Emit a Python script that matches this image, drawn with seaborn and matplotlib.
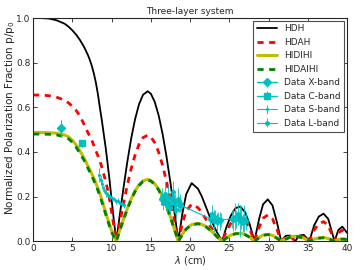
import matplotlib
matplotlib.use("Agg")
import matplotlib.pyplot as plt
import seaborn as sns
import pandas as pd

# model curves
lam = [0, 1, 2, 3, 4, 4.5, 5, 5.5, 6, 6.5, 7, 7.25, 7.5, 7.75, 8, 8.25, 8.5, 8.75, 9, 9.25, 9.5, 9.75, 10, 10.3, 10.6,
       11, 11.5, 12, 12.5, 13, 13.5, 14, 14.6, 15, 15.5, 16, 16.5, 17, 17.5, 18, 18.5,
       19, 19.5, 20.2, 21, 21.5, 22, 22.5, 23, 23.5, 24.1,
       24.6, 25.2, 25.8, 26.4, 27, 27.6, 28.2,
       28.8, 29.3, 29.9, 30.5, 31.1, 31.6,
       32.2, 32.8, 33.4, 33.9, 34.5, 35.2,
       35.8, 36.4, 37.0, 37.6, 38.4,
       38.9, 39.4, 40]

hdh = [1.0, 1.0, 0.998, 0.99, 0.975, 0.962, 0.945, 0.925, 0.9, 0.87, 0.833, 0.81, 0.783, 0.75, 0.71, 0.66, 0.6,
       0.543, 0.48, 0.418, 0.345, 0.27, 0.185, 0.09, 0.0,
       0.106, 0.235, 0.355, 0.461, 0.548, 0.614, 0.656, 0.672, 0.661, 0.624, 0.563, 0.48, 0.378, 0.261, 0.132, 0.0,
       0.12, 0.21, 0.26, 0.235, 0.2, 0.155, 0.11, 0.07, 0.035, 0.0,
       0.06, 0.115, 0.148, 0.155, 0.13, 0.075, 0.0,
       0.1, 0.165, 0.187, 0.16, 0.08, 0.0,
       0.024, 0.025, 0.0, 0.025, 0.028, 0.0,
       0.07, 0.11, 0.123, 0.1, 0.0,
       0.05, 0.065, 0.037]

hdah = [0.655, 0.655, 0.652, 0.645, 0.632, 0.62, 0.605, 0.585, 0.56, 0.522, 0.485, 0.468, 0.45, 0.428, 0.405, 0.383, 0.36,
        0.332, 0.3, 0.267, 0.23, 0.185, 0.13, 0.065, 0.0,
        0.075, 0.166, 0.251, 0.326, 0.387, 0.434, 0.464, 0.475, 0.467, 0.441, 0.398, 0.339, 0.267, 0.185, 0.093, 0.0,
        0.077, 0.134, 0.166, 0.15, 0.128, 0.099, 0.07, 0.045, 0.022, 0.0,
        0.042, 0.08, 0.104, 0.109, 0.091, 0.053, 0.0,
        0.063, 0.103, 0.117, 0.1, 0.05, 0.0,
        0.018, 0.02, 0.0, 0.018, 0.02, 0.0,
        0.05, 0.078, 0.087, 0.071, 0.0,
        0.038, 0.049, 0.028]

hidihi = [0.487, 0.487, 0.486, 0.484, 0.476, 0.468, 0.452, 0.43, 0.402, 0.372, 0.336, 0.318, 0.3, 0.281, 0.26, 0.238, 0.214,
          0.186, 0.157, 0.129, 0.1, 0.073, 0.047, 0.022, 0.0,
          0.044, 0.097, 0.146, 0.19, 0.226, 0.253, 0.27, 0.277, 0.272, 0.257, 0.232, 0.198, 0.156, 0.108, 0.054, 0.0,
          0.03, 0.055, 0.074, 0.079, 0.075, 0.066, 0.052, 0.036, 0.018, 0.0,
          0.014, 0.027, 0.034, 0.035, 0.03, 0.018, 0.0,
          0.016, 0.027, 0.03, 0.026, 0.013, 0.0,
          0.01, 0.019, 0.022, 0.02, 0.013, 0.0,
          0.009, 0.014, 0.016, 0.012, 0.0,
          0.007, 0.01, 0.008]

hidaihi = [0.48, 0.48, 0.479, 0.476, 0.468, 0.459, 0.443, 0.42, 0.392, 0.362, 0.326, 0.308, 0.29, 0.271, 0.25, 0.228, 0.204,
           0.176, 0.148, 0.12, 0.092, 0.066, 0.04, 0.019, 0.0,
           0.043, 0.095, 0.143, 0.187, 0.223, 0.25, 0.267, 0.274, 0.269, 0.254, 0.229, 0.195, 0.154, 0.106, 0.053, 0.0,
           0.029, 0.054, 0.073, 0.078, 0.074, 0.065, 0.051, 0.035, 0.017, 0.0,
           0.013, 0.026, 0.033, 0.034, 0.029, 0.017, 0.0,
           0.015, 0.026, 0.029, 0.025, 0.012, 0.0,
           0.009, 0.018, 0.021, 0.019, 0.012, 0.0,
           0.008, 0.013, 0.015, 0.011, 0.0,
           0.006, 0.009, 0.007]

# observations
x_lam = [3.55]
x_p = [0.505]
x_err = [0.037]

c_lam = [6.2]
c_p = [0.438]
c_err = [0.017]

s_lam = [8.35, 8.6, 8.8, 9.05, 9.3, 9.55, 9.8, 10.05, 10.3, 10.55, 10.8, 11.05, 11.3, 11.6]
s_p = [0.296, 0.275, 0.255, 0.23, 0.215, 0.208, 0.2, 0.192, 0.19, 0.178, 0.182, 0.17, 0.168, 0.16]
s_err = [0.03, 0.02, 0.02, 0.015, 0.015, 0.012, 0.012, 0.012, 0.01, 0.01, 0.01, 0.01, 0.01, 0.01]

l_lam = [16.3, 16.45, 16.6, 16.75, 16.9, 17.05, 17.2, 17.35, 17.5, 17.65, 17.8, 17.95, 18.1, 18.25, 18.4, 18.55, 18.7, 18.85,
         22.6, 22.8, 23.0, 23.2, 23.4, 23.6, 23.8, 24.0,
         25.3, 25.5, 25.7, 25.9, 26.1, 26.3, 26.5, 26.7, 26.9, 27.1]
l_p = [0.19, 0.2, 0.17, 0.21, 0.18, 0.16, 0.2, 0.17, 0.15, 0.19, 0.22, 0.17, 0.18, 0.14, 0.19, 0.16, 0.17, 0.16,
       0.1, 0.12, 0.09, 0.11, 0.085, 0.1, 0.09, 0.095,
       0.1, 0.095, 0.11, 0.1, 0.12, 0.09, 0.105, 0.08, 0.1, 0.09]
l_err = [0.03, 0.04, 0.03, 0.05, 0.04, 0.03, 0.05, 0.04, 0.03, 0.04, 0.05, 0.04, 0.03, 0.04, 0.05, 0.03, 0.04, 0.03,
         0.03, 0.04, 0.05, 0.03, 0.04, 0.03, 0.04, 0.03,
         0.04, 0.05, 0.06, 0.04, 0.05, 0.07, 0.05, 0.04, 0.06, 0.04]

sns.set_style("ticks", {"xtick.direction": "in", "ytick.direction": "in"})
plt.rcParams["font.family"] = ["DejaVu Sans"]
plt.rcParams["xtick.top"] = True
plt.rcParams["ytick.right"] = True

models = pd.DataFrame({"lam": lam, "HDH": hdh, "HDAH": hdah, "HIDIHI": hidihi, "HIDAIHI": hidaihi})

fig = plt.figure(figsize=(3.6, 2.7), dpi=100)
ax = fig.add_axes([0.092, 0.107, 0.872, 0.826])

sns.lineplot(data=models, x="lam", y="HDH", ax=ax, color="k", lw=1.3, label="HDH", sort=False)
sns.lineplot(data=models, x="lam", y="HDAH", ax=ax, color="r", lw=2, ls=(0, (2.2, 2.0)), label="HDAH", sort=False)
sns.lineplot(data=models, x="lam", y="HIDIHI", ax=ax, color="y", lw=2.2, label="HIDIHI", sort=False)
sns.lineplot(data=models, x="lam", y="HIDAIHI", ax=ax, color="g", lw=2, ls=(0, (2.2, 2.0)), label="HIDAIHI", sort=False)

ax.errorbar(x_lam, x_p, yerr=x_err, color="c", marker="D", ms=4, lw=1, elinewidth=0.8, label="Data X-band")
ax.errorbar(c_lam, c_p, yerr=c_err, color="c", marker="s", ms=4, lw=1, elinewidth=0.8, label="Data C-band")
ax.errorbar(s_lam, s_p, yerr=s_err, color="c", marker=".", ms=2.5, lw=0.8, elinewidth=0.6, label="Data S-band")
ax.errorbar(l_lam, l_p, yerr=l_err, color="c", marker="o", ms=2.5, lw=0.8, elinewidth=0.6, label="Data L-band")

ax.set_xlim(0, 40)
ax.set_ylim(0, 1.0)
ax.set_xticks(range(0, 41, 5))
ax.set_yticks([0.0, 0.2, 0.4, 0.6, 0.8, 1.0])
ax.set_yticklabels(["0.0", "0.2", "0.4", "0.6", "0.8", "1.0"])
ax.tick_params(labelsize=6.5, length=3, width=0.6, pad=2)
for s in ax.spines.values():
    s.set_linewidth(0.8)
ax.set_xlabel(r"$\lambda$ (cm)", fontsize=7, labelpad=1)
ax.set_ylabel(r"Normalized Polarization Fraction p/p$_0$", fontsize=7.5)
ax.yaxis.set_label_coords(-0.052, 0.555)
ax.set_title("Three-layer system", fontsize=6.5, pad=3)

leg = ax.legend(loc="upper right", fontsize=6.5, fancybox=False, framealpha=1,
                edgecolor="0.3", handlelength=2.2, labelspacing=0.5, borderaxespad=0.3)
leg.get_frame().set_linewidth(0.8)

fig.savefig("out.png", dpi=100)
